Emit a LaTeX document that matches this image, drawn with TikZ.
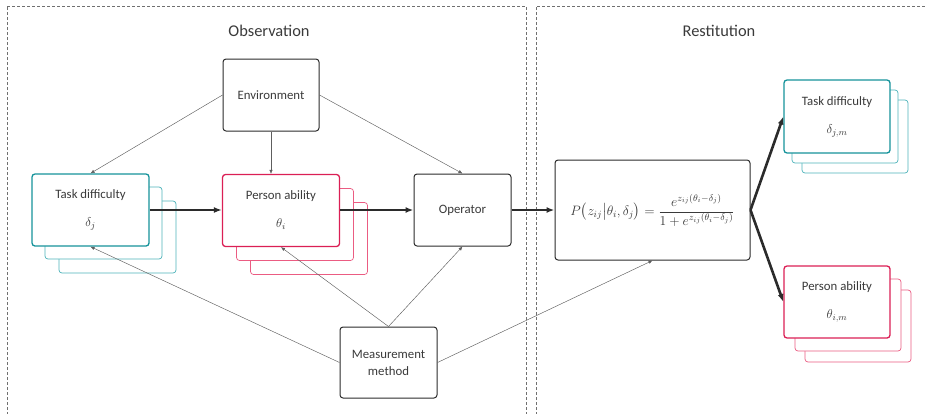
\RequirePackage{fix-cm}
\documentclass[tikz,border=0pt]{standalone}
\usepackage{amsmath}
\usepackage{fontspec}
\setmainfont{Carlito}
\usepackage{xcolor}
\usetikzlibrary{arrows.meta,positioning}
\definecolor{irtTeal}{HTML}{16939B}
\definecolor{irtTealLight}{HTML}{4DB3BA}
\definecolor{irtRose}{HTML}{DB1F55}
\definecolor{irtRoseLight}{HTML}{EB5C82}
\definecolor{irtInk}{HTML}{2B2B2B}
\definecolor{irtText}{HTML}{3A3A3A}
\definecolor{irtLine}{HTML}{5E5E5E}
\definecolor{irtFrame}{HTML}{707070}
\tikzset{
  irt diagram/.style={font=\fontsize{12.8}{15}\selectfont, text=irtText,
    line join=round},
  irt box/.style={draw=irtInk, fill=white, line width=1pt,
    rounded corners=3pt, align=center, inner sep=0pt},
  irt task/.style={irt box, draw=irtTeal, line width=1.3pt},
  irt person/.style={irt box, draw=irtRose, line width=1.3pt},
  irt task copy/.style={irt box, draw=irtTealLight, line width=0.7pt},
  irt person copy/.style={irt box, draw=irtRoseLight, line width=0.7pt},
  irt thin/.style={-{Latex[length=4pt,width=3.5pt]}, draw=irtLine, line width=0.45pt},
  irt thick/.style={-{Latex[length=8pt,width=6pt]}, draw=irtInk, line width=2.6pt},
  irt frame/.style={draw=irtFrame, line width=0.6pt, dash pattern=on 3pt off 2pt},
  irt title/.style={font=\fontsize{16.4}{19}\selectfont, text=irtText}
}

\begin{document}
\begin{tikzpicture}[irt diagram,x=1pt,y=-1pt]
\useasboundingbox (0,0) rectangle (926,413);
% the two stages
\draw[irt frame] (7,6) -- (526,6) -- (526,420) (7,420) -- (7,6);
\draw[irt frame] (536,420) -- (536,6) -- (935,6);
\node[irt title] (obsTitle) at (269,31) {Observation};
\node[irt title] (resTitle) at (719,31) {Restitution};

% observation side
\node[irt box, minimum width=96pt, minimum height=72pt] (env) at (271,95) {Environment};
\foreach \d in {27,13}
  \node[irt task copy, minimum width=117pt, minimum height=72pt] at (90.5+\d,210+\d) {};
\node[irt task, minimum width=117pt, minimum height=72pt] (taskL) at (90.5,210)
  {Task difficulty\\[13pt]$\delta_j$};
\foreach \d in {28,14}
  \node[irt person copy, minimum width=117pt, minimum height=72pt] at (281+\d,210.5+\d) {};
\node[irt person, minimum width=117pt, minimum height=72pt] (personL) at (281,210.5)
  {Person ability\\[13pt]$\theta_i$};
\node[irt box, minimum width=97pt, minimum height=72pt] (oper) at (462.5,210) {Operator};
\node[irt box, minimum width=97pt, minimum height=71pt, font=\fontsize{12.8}{17}\selectfont]
  (meas) at (388.5,362.5) {Measurement\\method};

% restitution side
\node[irt box, minimum width=195pt, minimum height=100pt, font=\fontsize{13.6}{16}\selectfont]
  (model) at (652.5,210)
  {$P\bigl(z_{ij}\big|\theta_i,\delta_j\bigr)=\dfrac{e^{z_{ij}(\theta_i-\delta_j)}}{1+e^{z_{ij}(\theta_i-\delta_j)}}$};
\foreach \dx/\dy in {18/20,8/10}
  \node[irt task copy, minimum width=106pt, minimum height=73pt] at (837+\dx,116.5+\dy) {};
\node[irt task, minimum width=106pt, minimum height=73pt] (taskR) at (837,116.5)
  {Task difficulty\\[13pt]$\delta_{j,m}$};
\foreach \dx/\dy in {21/24,11/13}
  \node[irt person copy, minimum width=106pt, minimum height=72pt] at (837+\dx,302+\dy) {};
\node[irt person, minimum width=106pt, minimum height=72pt] (personR) at (837,302)
  {Person ability\\[13pt]$\theta_{i,m}$};

% influences
\draw[irt thin] (env.west) -- (taskL.north);
\draw[irt thin] (env.south) -- (env.south |- personL.north);
\draw[irt thin] (env.east) -- (oper.north);
\draw[irt thin] (meas.west) -- (taskL.south);
\draw[irt thin] (meas.north) -- (personL.south);
\draw[irt thin] (meas.north) -- (oper.south);
\draw[irt thin] (meas.east) -- (model.south);

% main flow
\draw[irt thick] (taskL.east) -- (personL.west |- taskL.east);
\draw[irt thick] (personL.east |- oper.west) -- (oper.west);
\draw[irt thick] (oper.east) -- (model.west);
\draw[irt thick] (model.east) -- (taskR.west);
\draw[irt thick] (model.east) -- (personR.west);
\end{tikzpicture}
\end{document}
